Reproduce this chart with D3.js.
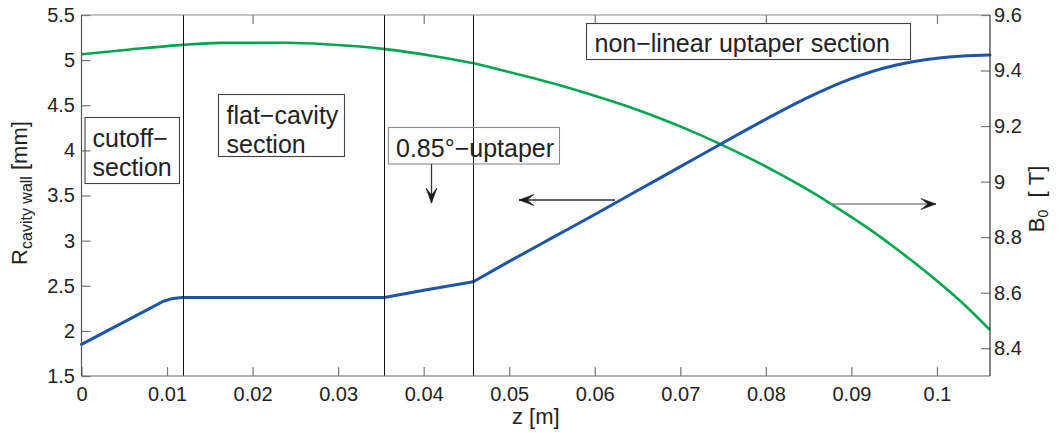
<!DOCTYPE html>
<html>
<head>
<meta charset="utf-8">
<script src="https://cdn.jsdelivr.net/npm/d3@7"></script>
<style>
  html, body { margin: 0; padding: 0; background: #fff; }
  svg { display: block; }
  text { font-family: "Liberation Sans", Arial, Helvetica, sans-serif; fill: #222; }
</style>
</head>
<body>
<svg id="chart" width="1061" height="433"></svg>
<script>
// Axial position along the cavity [m] and wall radius [mm]
// (cutoff taper, flat cavity and 0.85° uptaper: piecewise straight)
const zWallStraight = [0, 0.002, 0.004, 0.006, 0.008, 0.0095, 0.0105, 0.0112, 0.0118, 0.02, 0.03, 0.0354, 0.0362, 0.04, 0.0458];
const rWallStraight = [1.85, 1.95, 2.05, 2.15, 2.25, 2.325, 2.355, 2.365, 2.37, 2.37, 2.37, 2.37, 2.383, 2.45, 2.545];
// (non-linear uptaper: smooth profile)
const zWallTaper = [0.0458, 0.05, 0.055, 0.06, 0.065, 0.07, 0.075, 0.08, 0.085, 0.09, 0.095, 0.1, 0.103, 0.1062];
const rWallTaper = [2.545, 2.77, 3.03, 3.29, 3.555, 3.82, 4.085, 4.345, 4.59, 4.795, 4.94, 5.02, 5.045, 5.057];

// Axial position [m] and magnetic field B0 [T]
const zField = [0, 0.0057, 0.0115, 0.0162, 0.024, 0.029, 0.0355, 0.0411, 0.0458, 0.0489, 0.0559, 0.0598, 0.0637,
                0.0676, 0.0715, 0.0746, 0.0785, 0.0816, 0.0844, 0.0875, 0.0921, 0.0956, 0.0992, 0.1027, 0.1062];
const bField = [9.4585, 9.476, 9.4915, 9.4995, 9.500, 9.4935, 9.477, 9.4525, 9.426, 9.403, 9.347, 9.311, 9.272,
                9.228, 9.179, 9.136, 9.078, 9.028, 8.980, 8.922, 8.829, 8.750, 8.663, 8.571, 8.466];

// Section boundaries [m]
const sectionBounds = [0.01183, 0.0354, 0.0458];

// Tick values and labels
const xTicks = [0, 0.01, 0.02, 0.03, 0.04, 0.05, 0.06, 0.07, 0.08, 0.09, 0.1];
const xTickLabels = ["0", "0.01", "0.02", "0.03", "0.04", "0.05", "0.06", "0.07", "0.08", "0.09", "0.1"];
const xTopTicks = [0.02, 0.04, 0.06, 0.08, 0.1];
const yLeftTicks = [1.5, 2, 2.5, 3, 3.5, 4, 4.5, 5, 5.5];
const yLeftLabels = ["1.5", "2", "2.5", "3", "3.5", "4", "4.5", "5", "5.5"];
const yRightTicks = [8.4, 8.6, 8.8, 9, 9.2, 9.4, 9.6];
const yRightLabels = ["8.4", "8.6", "8.8", "9", "9.2", "9.4", "9.6"];

const svg = d3.select("#chart");
const plot = { left: 81.5, right: 990, top: 15, bottom: 376 };

const x = d3.scaleLinear().domain([0, 0.1062]).range([plot.left, plot.right]);
const yL = d3.scaleLinear().domain([1.5, 5.5]).range([plot.bottom, plot.top]);
const yR = d3.scaleLinear().domain([8.3, 9.6]).range([plot.bottom, plot.top]);

const FONT = '"Liberation Sans", Arial, Helvetica, sans-serif';
const BLUE = "#1f55a6", GREEN = "#00a550";

// Magnetic field profile
const fieldLine = d3.line().x((d, i) => x(zField[i])).y(d => yR(d)).curve(d3.curveMonotoneX);
svg.append("path").attr("d", fieldLine(bField))
  .attr("fill", "none").attr("stroke", GREEN).attr("stroke-width", 2.6)
  .attr("stroke-linejoin", "round");

// Wall radius profile
const straightLine = d3.line().x((d, i) => x(zWallStraight[i])).y(d => yL(d)).curve(d3.curveLinear);
const taperLine = d3.line().x((d, i) => x(zWallTaper[i])).y(d => yL(d)).curve(d3.curveMonotoneX);
[straightLine(rWallStraight), taperLine(rWallTaper)].forEach(dStr => {
  svg.append("path").attr("d", dStr)
    .attr("fill", "none").attr("stroke", BLUE).attr("stroke-width", 3)
    .attr("stroke-linejoin", "round").attr("stroke-linecap", "round");
});

// Section dividers
svg.selectAll("line.sec").data(sectionBounds).enter().append("line")
  .attr("class", "sec")
  .attr("x1", d => Math.round(x(d)) + 0.5).attr("x2", d => Math.round(x(d)) + 0.5)
  .attr("y1", plot.top).attr("y2", plot.bottom)
  .attr("stroke", "#111").attr("stroke-width", 1);

// Axes
function styleAxis(g) {
  g.select(".domain").remove();
  g.selectAll(".tick line").attr("stroke", "#777").attr("stroke-width", 1.2);
  g.selectAll(".tick text").attr("font-family", FONT).attr("font-size", 20).attr("fill", "#222");
}

svg.append("g").attr("transform", `translate(0,${plot.bottom})`)
  .call(d3.axisBottom(x).tickValues(xTicks).tickFormat((d, i) => xTickLabels[i])
        .tickSizeInner(-9).tickSizeOuter(0).tickPadding(11))
  .call(styleAxis);

svg.append("g").attr("transform", `translate(0,${plot.top})`)
  .call(d3.axisTop(x).tickValues(xTopTicks).tickFormat("")
        .tickSizeInner(-9).tickSizeOuter(0))
  .call(styleAxis);

svg.append("g").attr("transform", `translate(${plot.left},0)`)
  .call(d3.axisLeft(yL).tickValues(yLeftTicks).tickFormat((d, i) => yLeftLabels[i])
        .tickSizeInner(-9).tickSizeOuter(0).tickPadding(6.5))
  .call(styleAxis);

svg.append("g").attr("transform", `translate(${plot.right},0)`)
  .call(d3.axisRight(yR).tickValues(yRightTicks).tickFormat((d, i) => yRightLabels[i])
        .tickSizeInner(-9).tickSizeOuter(0).tickPadding(4))
  .call(styleAxis);

// Frame
svg.append("line").attr("x1", plot.left).attr("x2", plot.right).attr("y1", plot.top).attr("y2", plot.top)
  .attr("stroke", "#888").attr("stroke-width", 1.2);
svg.append("line").attr("x1", plot.left).attr("x2", plot.right).attr("y1", plot.bottom).attr("y2", plot.bottom)
  .attr("stroke", "#666").attr("stroke-width", 1.2);
svg.append("line").attr("x1", plot.left).attr("x2", plot.left).attr("y1", plot.top).attr("y2", plot.bottom)
  .attr("stroke", "#555").attr("stroke-width", 1.2);
svg.append("line").attr("x1", plot.right).attr("x2", plot.right).attr("y1", plot.top).attr("y2", plot.bottom)
  .attr("stroke", "#333").attr("stroke-width", 1.2);

// Axis labels
svg.append("text").attr("x", (plot.left + plot.right) / 2).attr("y", 423.5)
  .attr("text-anchor", "middle").attr("font-size", 22).text("z [m]");

const yLab = svg.append("text")
  .attr("transform", "translate(27,193) rotate(-90)")
  .attr("text-anchor", "middle").attr("font-size", 22);
yLab.append("tspan").text("R");
yLab.append("tspan").attr("font-size", 16).attr("dy", 5).text("cavity wall");
yLab.append("tspan").attr("dy", -5).text("\u00a0[mm]");

const y2Lab = svg.append("text")
  .attr("transform", "translate(1044,199) rotate(-90)")
  .attr("text-anchor", "middle").attr("font-size", 22);
y2Lab.append("tspan").text("B");
y2Lab.append("tspan").attr("font-size", 14).attr("dy", 4).text("0");
y2Lab.append("tspan").attr("dy", -4).text("\u00a0\u00a0[\u00a0T]");

// Annotation boxes
const boxes = [
  { x0: 85, y0: 117.5, x1: 179.5, y1: 183.5, stroke: "#444", lines: ["cutoff\u2212", "section"], tx: 92.5, ty: 146.5 },
  { x0: 218.5, y0: 94.5, x1: 344.5, y1: 156.5, stroke: "#444", lines: ["flat\u2212cavity", "section"], tx: 226.5, ty: 123.5 },
  { x0: 388.5, y0: 127.5, x1: 559.5, y1: 164, stroke: "#8a8a8a", lines: ["0.85\u00b0\u2212uptaper"], tx: 396, ty: 156.5 },
  { x0: 586.5, y0: 23.5, x1: 910.5, y1: 59.5, stroke: "#444", lines: ["non\u2212linear uptaper section"], tx: 594.5, ty: 52 }
];
boxes.forEach(b => {
  svg.append("rect").attr("x", b.x0).attr("y", b.y0)
    .attr("width", b.x1 - b.x0).attr("height", b.y1 - b.y0)
    .attr("fill", "none").attr("stroke", b.stroke).attr("stroke-width", 1.1);
  b.lines.forEach((t, i) => {
    svg.append("text").attr("x", b.tx).attr("y", b.ty + i * 29)
      .attr("font-size", 25).attr("fill", "#1a1a1a").text(t);
  });
});

// Arrows
function arrow(x1, y1, x2, y2, lineColor) {
  svg.append("line").attr("x1", x1).attr("y1", y1).attr("x2", x2).attr("y2", y2)
    .attr("stroke", lineColor).attr("stroke-width", 1.3);
  const len = Math.hypot(x2 - x1, y2 - y1);
  const dx = (x2 - x1) / len, dy = (y2 - y1) / len;
  const nx = -dy, ny = dx;
  const L = 15, w = 5.5, notch = 8;
  const p = [
    [x2, y2],
    [x2 - L * dx + w * nx, y2 - L * dy + w * ny],
    [x2 - notch * dx, y2 - notch * dy],
    [x2 - L * dx - w * nx, y2 - L * dy - w * ny]
  ];
  svg.append("path").attr("d", "M" + p.map(q => q.join(",")).join("L") + "Z")
    .attr("fill", "#1a1a1a").attr("stroke", "#1a1a1a").attr("stroke-width", 0.6);
}
arrow(431.5, 164, 431.5, 203, "#333");
arrow(615, 200, 519, 200, "#333");
arrow(829, 204, 936, 204, "#888");
</script>
</body>
</html>
